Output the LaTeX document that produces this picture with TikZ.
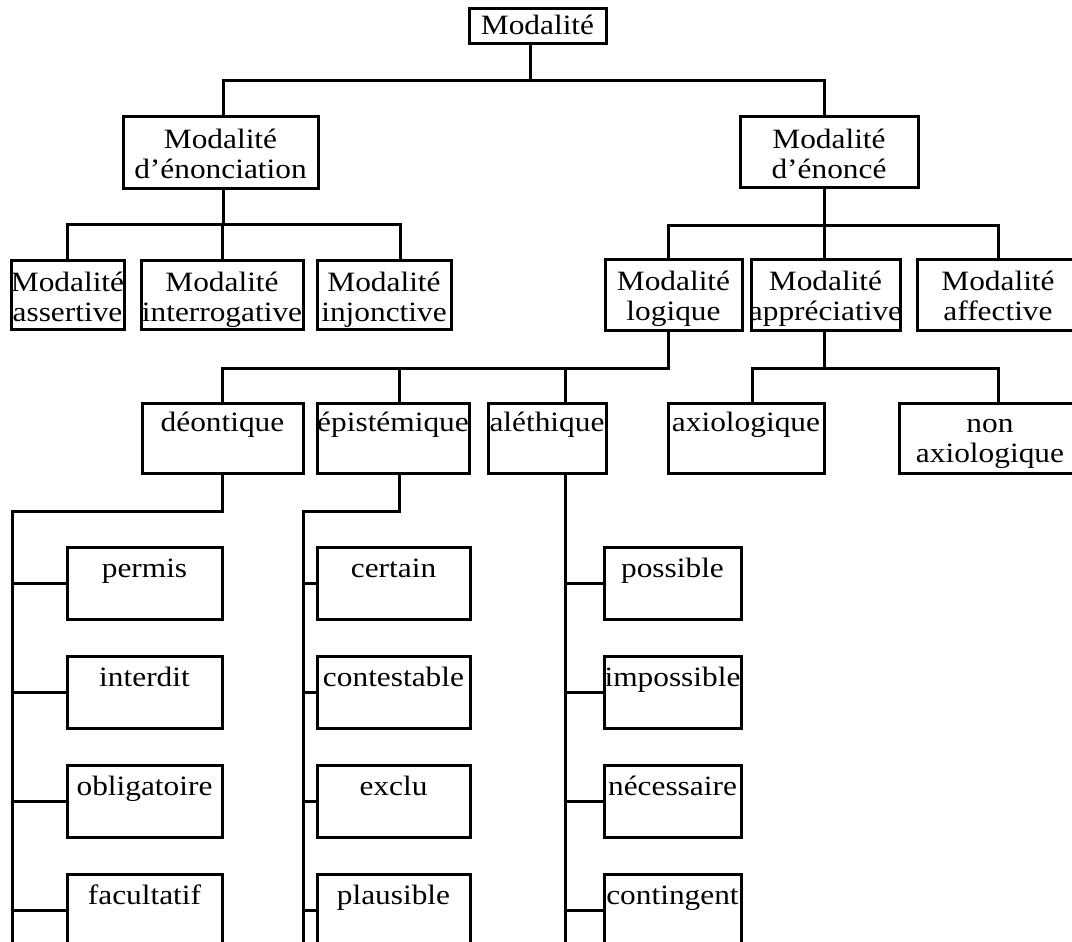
\documentclass[tikz,border=0pt]{standalone}
\usepackage{fontspec}
\setmainfont{Liberation Serif}[FakeStretch=1.12]
\newcommand\mybox[7]{%
  \node[bx] (#1) at ({(#2+#4)/2},{(#3+#5)/2})
   {\parbox[c][\dimexpr#5pt-#3pt\relax][t]{\dimexpr#4pt-#2pt\relax}{%
     \centering\leftskip=0pt plus 1fil minus 12pt\rightskip=0pt plus 1fil minus 12pt
     \hyphenpenalty=10000 \rule{0pt}{#6pt}#7}};}
\tikzset{
  bx/.style={draw, line width=3pt, inner sep=0pt, outer sep=0pt,
    font=\fontsize{28}{30}\selectfont},
  conn/.style={line width=3pt}
}
\begin{document}
\begin{tikzpicture}[x=1pt,y=-1pt]
\useasboundingbox (0,0) rectangle (1072,942);
\clip (0,0) rectangle (1072,942);
% boxes
\mybox{root}{469}{9}{606}{44}{26}{Modalité}
\mybox{enonciation}{123}{117}{318}{188}{31}{Modalité\\d’énonciation}
\mybox{enonce}{740}{117}{918}{187}{31}{Modalité\\d’énoncé}
\mybox{assertive}{11}{260}{124}{329}{31}{Modalité\\assertive}
\mybox{interrogative}{141}{260}{303}{329}{31}{Modalité\\interrogative}
\mybox{injonctive}{317}{260}{451}{329}{31}{Modalité\\injonctive}
\mybox{logique}{605}{259}{742}{330}{31}{Modalité\\logique}
\mybox{appreciative}{751}{259}{900}{330}{31}{Modalité\\appréciative}
\mybox{affective}{917}{259}{1079}{330}{31}{Modalité\\affective}
\mybox{deontique}{142}{403}{303}{473}{28}{déontique}
\mybox{epistemique}{317}{403}{469}{473}{28}{épistémique}
\mybox{alethique}{488}{403}{606}{473}{28}{aléthique}
\mybox{axiologique}{668}{403}{824}{473}{28}{axiologique}
\mybox{nonaxiologique}{899}{403}{1081}{473}{29}{non\\axiologique}
% column A
\mybox{permis}{67}{547}{222}{619}{30}{permis}
\mybox{interdit}{67}{656}{222}{728}{30}{interdit}
\mybox{obligatoire}{67}{765}{222}{837}{30}{obligatoire}
\mybox{facultatif}{67}{874}{222}{946}{30}{facultatif}
% column B
\mybox{certain}{317}{547}{470}{619}{30}{certain}
\mybox{contestable}{317}{656}{470}{728}{30}{contestable}
\mybox{exclu}{317}{765}{470}{837}{30}{exclu}
\mybox{plausible}{317}{874}{470}{946}{30}{plausible}
% column C
\mybox{possible}{604}{547}{741}{619}{30}{possible}
\mybox{impossible}{604}{656}{741}{728}{30}{impossible}
\mybox{necessaire}{604}{765}{741}{837}{30}{nécessaire}
\mybox{contingent}{604}{874}{741}{946}{30}{contingent}
% junctions
\coordinate (j0m) at (530,81);
\coordinate (j0l) at (223,81);
\coordinate (j0r) at (824,81);
\coordinate (j1m) at (223,224);
\coordinate (j1l) at (67,224);
\coordinate (j1c) at (222,224);
\coordinate (j1r) at (400,224);
\coordinate (j2m) at (824,225);
\coordinate (j2l) at (668,225);
\coordinate (j2r) at (998,225);
\coordinate (j3m) at (668,368);
\coordinate (j3l) at (222,368);
\coordinate (j3c) at (399,368);
\coordinate (j3r) at (565,368);
\coordinate (j4m) at (824,368);
\coordinate (j4l) at (752,368);
\coordinate (j4r) at (998,368);
\coordinate (sA) at (12,511);
\coordinate (sAd) at (222,511);
\coordinate (sB) at (303,511);
\coordinate (sBd) at (399,511);
\coordinate (sAe) at (12,950);
\coordinate (sBe) at (303,950);
\coordinate (sCe) at (565,950);
% level 0 -> 1
\draw[conn] (root.south -| j0m) -- (j0m);
\draw[conn] (enonciation.north -| j0l) -- (j0l) -- (j0r) -- (enonce.north -| j0r);
% enonciation -> children
\draw[conn] (enonciation.south -| j1m) -- (j1m);
\draw[conn] (assertive.north -| j1l) -- (j1l) -- (j1r) -- (injonctive.north -| j1r);
\draw[conn] (j1c) -- (interrogative.north -| j1c);
% enonce -> children
\draw[conn] (enonce.south -| j2m) -- (j2m);
\draw[conn] (logique.north -| j2l) -- (j2l) -- (j2r) -- (affective.north -| j2r);
\draw[conn] (j2m) -- (appreciative.north -| j2m);
% logique -> children
\draw[conn] (logique.south -| j3m) -- (j3m) -- (j3l) -- (deontique.north -| j3l);
\draw[conn] (j3c) -- (epistemique.north -| j3c);
\draw[conn] (j3r) -- (alethique.north -| j3r);
% appreciative -> children
\draw[conn] (appreciative.south -| j4m) -- (j4m);
\draw[conn] (axiologique.north -| j4l) -- (j4l) -- (j4r) -- (nonaxiologique.north -| j4r);
% deontique column
\draw[conn] (deontique.south -| sAd) -- (sAd) -- (sA) -- (sAe);
\draw[conn] (sA |- permis.west) -- (permis.west);
\draw[conn] (sA |- interdit.west) -- (interdit.west);
\draw[conn] (sA |- obligatoire.west) -- (obligatoire.west);
\draw[conn] (sA |- facultatif.west) -- (facultatif.west);
% epistemique column
\draw[conn] (epistemique.south -| sBd) -- (sBd) -- (sB) -- (sBe);
\draw[conn] (sB |- certain.west) -- (certain.west);
\draw[conn] (sB |- contestable.west) -- (contestable.west);
\draw[conn] (sB |- exclu.west) -- (exclu.west);
\draw[conn] (sB |- plausible.west) -- (plausible.west);
% alethique column
\draw[conn] (alethique.south -| sCe) -- (sCe);
\draw[conn] (sCe |- possible.west) -- (possible.west);
\draw[conn] (sCe |- impossible.west) -- (impossible.west);
\draw[conn] (sCe |- necessaire.west) -- (necessaire.west);
\draw[conn] (sCe |- contingent.west) -- (contingent.west);
\end{tikzpicture}
\end{document}
